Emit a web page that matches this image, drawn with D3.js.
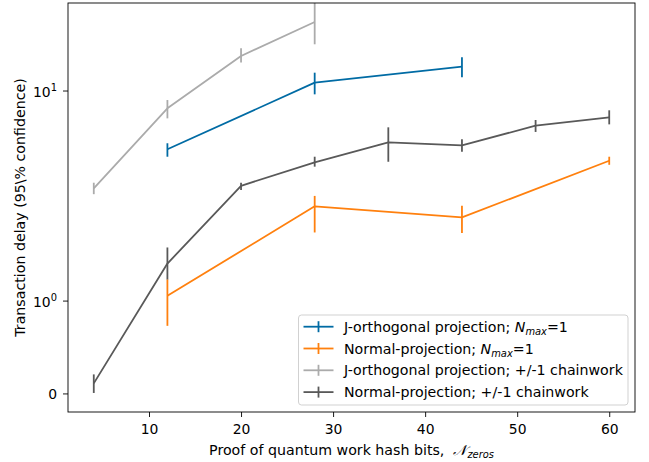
<!DOCTYPE html>
<html><head><meta charset="utf-8">
<script src="https://cdn.jsdelivr.net/npm/d3@7"></script>
<style>
body{margin:0;background:#fff;}
svg{display:block;font-family:"DejaVu Sans",sans-serif;}
</style></head>
<body><svg id="chart" width="649" height="462"></svg>
<script>
// ---- data ----
const xTicks = [10, 20, 30, 40, 50, 60];
const yTicks = [0, 1, 10];
const yTickBase = ["0", "10", "10"];
const yTickExp = ["", "0", "1"];

const jOrthX = [12, 28, 44];
const jOrthY = [5.25, 10.9, 12.98];
const jOrthLo = [4.84, 9.59, 11.56];
const jOrthHi = [5.61, 12.16, 14.39];

const normX = [12, 28, 44, 60];
const normY = [1.054, 2.81, 2.49, 4.63];
const normLo = [0.728, 2.11, 2.10, 4.43];
const normHi = [1.262, 3.15, 2.83, 4.84];

const jOrthCwX = [4, 12, 20, 28];
const jOrthCwY = [3.42, 8.23, 14.6, 21.2];
const jOrthCwLo = [3.21, 7.37, 13.6, 16.6];
const jOrthCwHi = [3.64, 9.01, 15.9, 27.0];

const normCwX = [4, 12, 20, 28, 36, 44, 52, 60];
const normCwY = [0.108, 1.50, 3.52, 4.55, 5.67, 5.48, 6.80, 7.45];
const normCwLo = [0.005, 1.26, 3.36, 4.34, 4.58, 5.11, 6.35, 6.90];
const normCwHi = [0.205, 1.79, 3.64, 4.84, 6.68, 5.86, 7.24, 8.05];

const seriesNames = [
  ["J-orthogonal projection; ", "N", "max", "=1"],
  ["Normal-projection; ", "N", "max", "=1"],
  ["J-orthogonal projection; +/-1 chainwork"],
  ["Normal-projection; +/-1 chainwork"]
];
const colors = ["#006BA4", "#FF800E", "#ABABAB", "#595959"];

// ---- layout ----
const L = 68, R = 635, T = 3, B = 412;
const FS = "13.9px", FSL = "14.2px", FSsub = "9.9px";
const svg = d3.select("#chart");

const x = d3.scaleLinear().domain([1.2, 62.8]).range([L, R]);

// symlog-like transform (linthresh 1)
const K = 0.442;
function tf(v){ const a = Math.abs(v); return a <= 1 ? v * K : Math.sign(v) * (K + Math.log10(a)); }
const yMin = -0.2, yMax = 26.1;
const yLin = d3.scaleLinear().domain([tf(yMin), tf(yMax)]).range([B, T]);
function y(v){ return yLin(tf(v)); }
y.domain = () => [yMin, yMax];
y.range = () => [B, T];
y.copy = () => y;

svg.append("defs").append("clipPath").attr("id","clip")
  .append("rect").attr("x", L).attr("y", T).attr("width", R - L).attr("height", B - T);

const series = [
  {x: jOrthX, y: jOrthY, lo: jOrthLo, hi: jOrthHi},
  {x: normX, y: normY, lo: normLo, hi: normHi},
  {x: jOrthCwX, y: jOrthCwY, lo: jOrthCwLo, hi: jOrthCwHi},
  {x: normCwX, y: normCwY, lo: normCwLo, hi: normCwHi}
];

const plot = svg.append("g").attr("clip-path", "url(#clip)");
const line = d3.line().x(d => x(d[0])).y(d => y(d[1]));
series.forEach((s, i) => {
  const g = plot.append("g");
  const pts = s.x.map((xv, j) => [xv, s.y[j]]);
  g.append("path").attr("d", line(pts)).attr("fill", "none")
    .attr("stroke", colors[i]).attr("stroke-width", 1.8).attr("stroke-linejoin","round");
  g.selectAll("line.err").data(s.x).enter().append("line")
    .attr("x1", d => x(d)).attr("x2", d => x(d))
    .attr("y1", (d, j) => y(s.lo[j])).attr("y2", (d, j) => y(s.hi[j]))
    .attr("stroke", colors[i]).attr("stroke-width", 1.8);
});

// axes
const xAxis = d3.axisBottom(x).tickValues(xTicks).tickSize(5);
const gx = svg.append("g").attr("transform", `translate(0,${B})`).call(xAxis);
gx.selectAll("text").attr("y", 22).attr("dy", 0);
const yAxis = d3.axisLeft(y).tickValues(yTicks).tickSize(5).tickPadding(6).tickFormat(() => "");
const gy = svg.append("g").attr("transform", `translate(${L},0)`).call(yAxis);
gy.selectAll(".tick text").each(function(d, i) {
  const t = d3.select(this).attr("dy", 0).attr("y", i === 0 ? 5 : 6);
  t.append("tspan").text(yTickBase[i]);
  if (yTickExp[i]) t.append("tspan").attr("font-size", FSsub).attr("dy", -6).text(yTickExp[i]);
});
[gx, gy].forEach(g => {
  g.select(".domain").remove();
  g.selectAll("text").attr("font-size", FS).attr("fill", "#000").attr("font-family", "DejaVu Sans");
  g.selectAll("line").attr("stroke", "#000").attr("stroke-width", 0.9);
});

// frame
svg.append("rect").attr("x", L).attr("y", T).attr("width", R - L).attr("height", B - T)
  .attr("fill", "none").attr("stroke", "#000").attr("stroke-width", 0.9);

// axis labels
const xl = svg.append("text").attr("x", (L + R) / 2).attr("y", 454.5)
  .attr("text-anchor", "middle").attr("font-size", FSL);
xl.append("tspan").text("Proof of quantum work hash bits,\u00A0\u00A0");
xl.append("tspan").attr("font-style", "italic").text("\uD835\uDCA9");
xl.append("tspan").attr("font-style", "italic").attr("font-size", FSsub).attr("dy", 3).text("zeros");

svg.append("text").attr("transform", `translate(24.5,${(T + B) / 2}) rotate(-90)`)
  .attr("text-anchor", "middle").attr("font-size", FSL)
  .text("Transaction delay (95\\% confidence)");

// legend
const lg = svg.append("g");
lg.append("rect").attr("x", 298.5).attr("y", 315).attr("width", 329.5).attr("height", 90)
  .attr("rx", 3).attr("fill", "#fff").attr("fill-opacity", 0.8)
  .attr("stroke", "#cccccc").attr("stroke-width", 0.9);
seriesNames.forEach((parts, i) => {
  const cy = 326.7 + i * 21.8;
  lg.append("line").attr("x1", 303.5).attr("x2", 333.5).attr("y1", cy).attr("y2", cy)
    .attr("stroke", colors[i]).attr("stroke-width", 1.8);
  lg.append("line").attr("x1", 318.5).attr("x2", 318.5).attr("y1", cy - 5.5).attr("y2", cy + 5.5)
    .attr("stroke", colors[i]).attr("stroke-width", 1.8);
  const t = lg.append("text").attr("x", 344).attr("y", cy + 5).attr("font-size", FSL);
  t.append("tspan").text(parts[0]);
  if (parts.length > 1) {
    t.append("tspan").attr("font-style", "italic").text(parts[1]);
    t.append("tspan").attr("font-style", "italic").attr("font-size", FSsub).attr("dy", 3).text(parts[2]);
    t.append("tspan").attr("dy", -3).text(parts[3]);
  }
});
</script></body></html>
